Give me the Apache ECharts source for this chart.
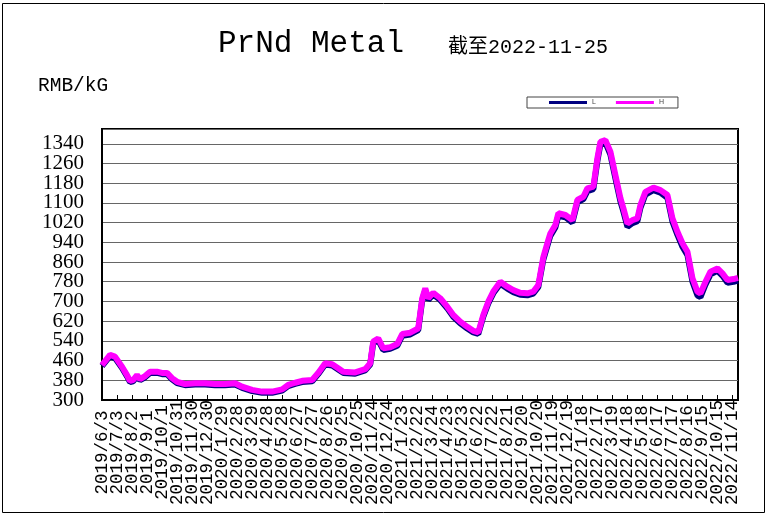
<!DOCTYPE html>
<html>
<head>
<meta charset="utf-8">
<script src="https://cdn.jsdelivr.net/npm/echarts@6/dist/echarts.min.js"></script>
<style>
html,body{margin:0;padding:0;background:#fff;}
#chart{width:770px;height:520px;}
</style>
</head>
<body>
<div id="chart"></div>
<script>
// ---- data ----
const titleText = 'PrNd Metal';
const subtitleText = '截至2022-11-25';
const unitText = 'RMB/kG';
const seriesNames = ['L', 'H'];
const startDate = '2019-06-03';
const endDate = '2022-11-25';
const tickDays = 30;          // x tick step (days)
const yMin = 300, yMax = 1400, yStep = 80;

const dates = [
 '2019-06-03','2019-06-19','2019-06-29','2019-07-13','2019-07-23','2019-07-29','2019-08-04','2019-08-12','2019-08-18','2019-08-28',
 '2019-09-07','2019-09-21','2019-10-01','2019-10-11','2019-10-21','2019-10-31','2019-11-16','2019-12-06','2019-12-26','2020-01-15',
 '2020-02-04','2020-02-24','2020-03-09','2020-03-29','2020-04-18','2020-05-08','2020-05-28','2020-06-09','2020-06-23','2020-07-07',
 '2020-07-27','2020-08-08','2020-08-22','2020-09-05','2020-09-17','2020-09-27','2020-10-21','2020-11-10','2020-11-20','2020-11-26',
 '2020-12-06','2020-12-16','2020-12-30','2021-01-13','2021-01-23','2021-02-08','2021-02-24','2021-03-04','2021-03-10','2021-03-16',
 '2021-03-26','2021-04-09','2021-04-23','2021-05-05','2021-05-19','2021-06-02','2021-06-14','2021-06-24','2021-07-04','2021-07-14',
 '2021-07-24','2021-08-07','2021-08-21','2021-09-02','2021-09-16','2021-09-30','2021-10-12','2021-10-22','2021-11-01','2021-11-11',
 '2021-11-15','2021-11-25','2021-12-01','2021-12-15','2021-12-29','2022-01-08','2022-01-20','2022-01-28','2022-02-09','2022-02-17',
 '2022-02-23','2022-03-05','2022-03-15','2022-03-25','2022-04-04','2022-04-10','2022-04-18','2022-04-28','2022-05-08','2022-05-14',
 '2022-05-24','2022-06-09','2022-06-23','2022-07-07','2022-07-17','2022-07-27','2022-08-06','2022-08-16','2022-08-26','2022-09-05',
 '2022-09-11','2022-09-21','2022-10-01','2022-10-15','2022-10-25','2022-11-04','2022-11-16','2022-11-25'
];
const valuesH = [
 442,483,476,435,401,378,381,401,385,397,
 415,415,410,410,389,374,365,368,368,365,
 365,368,354,341,334,334,343,361,370,378,
 381,410,449,445,429,415,412,425,449,537,
 550,510,514,527,568,573,591,713,753,713,
 735,713,679,645,618,597,581,575,645,699,
 740,780,760,746,735,733,740,767,880,950,
 976,1010,1058,1051,1030,1112,1125,1159,1166,1281,
 1348,1355,1308,1213,1119,1078,1017,1030,1037,1091,
 1145,1162,1152,1132,1037,983,936,902,794,740,
 733,780,821,834,814,787,791,796
];
const valuesL = [
 438,478,470,430,396,373,376,396,380,392,
 410,410,405,405,384,369,360,363,363,360,
 360,363,349,336,329,329,338,356,365,373,
 376,405,444,440,424,410,407,420,444,530,
 543,503,508,520,561,566,584,705,745,706,
 728,706,672,638,611,590,574,568,638,692,
 733,772,752,738,727,725,732,759,870,940,
 966,1000,1048,1042,1020,1102,1115,1148,1156,1270,
 1337,1345,1296,1200,1106,1064,1003,1018,1026,1080,
 1134,1152,1142,1120,1024,970,922,888,780,724,
 718,768,810,824,804,776,780,785
];

// ---- helpers ----
function dayIndex(s) {
  const p = s.split('-').map(Number);
  const q = startDate.split('-').map(Number);
  return Math.round((Date.UTC(p[0], p[1]-1, p[2]) - Date.UTC(q[0], q[1]-1, q[2])) / 86400000);
}
function dayLabel(d) {
  const q = startDate.split('-').map(Number);
  const t = new Date(Date.UTC(q[0], q[1]-1, q[2]) + Math.round(d) * 86400000);
  return t.getUTCFullYear() + '/' + (t.getUTCMonth()+1) + '/' + t.getUTCDate();
}
const xMax = dayIndex(endDate);
const pairs = vals => dates.map((d, i) => [dayIndex(d), vals[i] - yMin]);

const labelFont = {fontFamily: '"Liberation Mono"', fontSize: 17.5, lineHeight: 12, color: '#000'};
const CH = 10.5; // approx. advance of one label char
const rich = {};
[7, 8, 9, 10].forEach(n => {
  rich['p' + n] = Object.assign({padding: [0, (10 - n) * CH / 2, 0, 0]}, labelFont);
});
const xLabel = v => { const s = dayLabel(v); return '{p' + s.length + '|' + s + '}'; };
const yLabel = v => String(Math.round(v + yMin));
const yFont = {fontFamily: '"Liberation Serif"', fontSize: 21, color: '#000'};

const chart = echarts.init(document.getElementById('chart'), null, {renderer: 'canvas'});
chart.setOption({
  animation: false,
  backgroundColor: '#fff',
  grid: {left: 102, right: 32, top: 129, bottom: 120, show: true, borderColor: '#000', borderWidth: 2, backgroundColor: 'transparent'},
  legend: {
    data: seriesNames, left: 527, top: 97, orient: 'horizontal',
    icon: 'rect', itemWidth: 38, itemHeight: 3, itemGap: 20,
    padding: [2, 14, 2, 22], borderColor: '#444', borderWidth: 1,
    textStyle: {fontSize: 7, color: '#444', fontFamily: 'Liberation Sans', lineHeight: 7}
  },
  xAxis: [{
    type: 'value', min: 0, max: xMax, interval: tickDays,
    axisLine: {show: true, lineStyle: {color: '#000', width: 2}},
    axisTick: {show: true, inside: true, length: 5, lineStyle: {color: '#000', width: 1}},
    splitLine: {show: false},
    axisLabel: Object.assign({
      show: true, rotate: 90, margin: 0, showMaxLabel: false, showMinLabel: false,
      rich: rich, formatter: xLabel
    }, labelFont)
  }, {
    // carries only the first date label
    type: 'value', position: 'bottom', offset: 0, min: 0, max: xMax, interval: xMax,
    axisLine: {show: false}, axisTick: {show: false}, splitLine: {show: false},
    axisLabel: Object.assign({
      show: true, rotate: 90, margin: 0, showMaxLabel: false, showMinLabel: true,
      rich: rich, formatter: xLabel
    }, labelFont)
  }],
  yAxis: [{
    type: 'value', min: 0, max: yMax - yMin, interval: yStep,
    axisLine: {show: true, lineStyle: {color: '#000', width: 2}},
    axisTick: {show: false},
    splitLine: {show: true, lineStyle: {color: '#666', width: 1}},
    axisLabel: Object.assign({showMaxLabel: false, showMinLabel: false, margin: 18, formatter: yLabel}, yFont)
  }, {
    // carries only the lowest value label
    type: 'value', position: 'left', offset: 0, min: 0, max: yMax - yMin, interval: yMax - yMin,
    axisLine: {show: false}, axisTick: {show: false}, splitLine: {show: false},
    axisLabel: Object.assign({showMaxLabel: false, showMinLabel: true, margin: 18, formatter: yLabel}, yFont)
  }],
  series: [
    {name: seriesNames[0], type: 'line', data: pairs(valuesL), showSymbol: false, symbol: 'none',
     xAxisIndex: 0, yAxisIndex: 0,
     lineStyle: {color: '#000080', width: 6}, itemStyle: {color: '#000080'}, z: 2},
    {name: seriesNames[1], type: 'line', data: pairs(valuesH), showSymbol: false, symbol: 'none',
     xAxisIndex: 0, yAxisIndex: 0,
     lineStyle: {color: '#FF00FF', width: 6}, itemStyle: {color: '#FF00FF'}, z: 3}
  ],
  graphic: [
    {type: 'rect', shape: {x: 2.5, y: 3.5, width: 762, height: 509}, style: {fill: 'none', stroke: '#000', lineWidth: 1}, silent: true},
    {type: 'text', x: 218, y: 44, style: {text: titleText, font: '31px "Liberation Mono"', fill: '#000', verticalAlign: 'middle'}},
    {type: 'text', x: 448, y: 48, style: {text: subtitleText, font: '20px "Liberation Mono", "Noto Sans CJK SC"', fill: '#000', verticalAlign: 'middle'}},
    {type: 'text', x: 38, y: 86, style: {text: unitText, font: '19.5px "Liberation Mono"', fill: '#000', verticalAlign: 'middle'}}
  ]
});
</script>
</body>
</html>
